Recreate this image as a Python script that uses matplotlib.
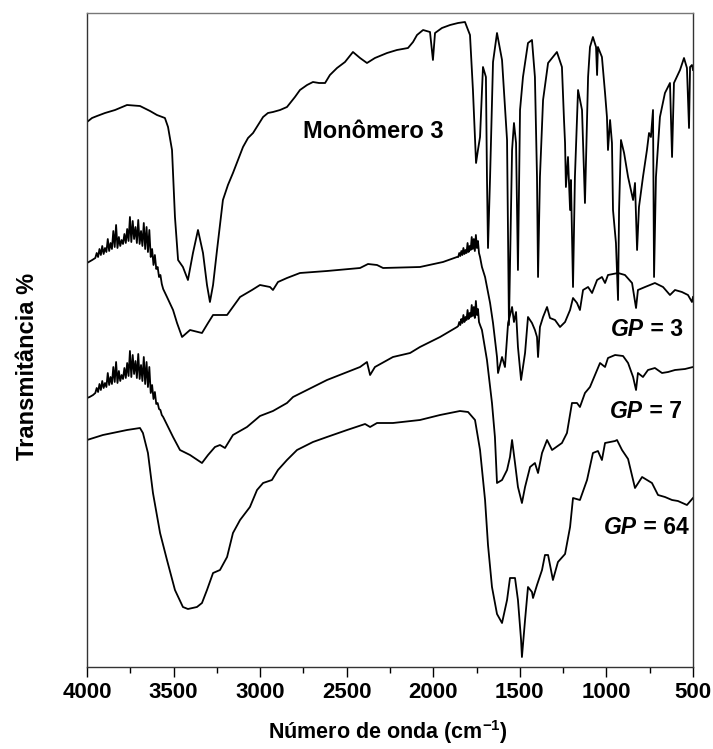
import matplotlib
matplotlib.use("Agg")
import matplotlib.pyplot as plt
from matplotlib.ticker import MultipleLocator

plt.rcParams['font.family'] = ['Liberation Sans', 'DejaVu Sans']
plt.rcParams['mathtext.fontset'] = 'custom'
plt.rcParams['mathtext.rm'] = 'Liberation Sans:bold'
plt.rcParams['mathtext.bf'] = 'Liberation Sans:bold'
plt.rcParams['mathtext.it'] = 'Liberation Sans:bold:italic'
plt.rcParams['mathtext.default'] = 'bf'

# ---------------- data (wavenumber cm-1, transmittance in arbitrary offset units) ----
mono_wn = [4000, 3971, 3942, 3896, 3838, 3769, 3694, 3636, 3596, 3550, 3532, 3509, 3492, 3474,
           3446, 3417, 3388, 3359, 3330, 3307, 3290, 3272, 3249, 3215, 3186, 3157, 3128, 3099,
           3070, 3041, 3012, 2983, 2955, 2926, 2885, 2845, 2799, 2770, 2729, 2695, 2660, 2625,
           2597, 2556, 2510, 2464, 2423, 2383, 2337, 2267, 2210, 2146, 2117, 2094, 2059, 2019,
           2002, 1990, 1950, 1903, 1857, 1817, 1788, 1771, 1753, 1742, 1730, 1713, 1696, 1690,
           1684, 1672, 1655, 1632, 1603, 1574, 1563, 1545, 1534, 1522, 1511, 1499, 1482, 1453,
           1430, 1413, 1401, 1395, 1384, 1366, 1337, 1286, 1257, 1245, 1239, 1234, 1222, 1210,
           1205, 1193, 1182, 1164, 1141, 1124, 1106, 1095, 1078, 1060, 1054, 1049, 1026, 1008,
           997, 991, 979, 968, 962, 945, 933, 927, 916, 898, 875, 846, 835, 823, 812, 789, 766,
           754, 743, 731, 725, 714, 691, 662, 633, 621, 610, 575, 552, 535, 523, 517, 506, 500]
mono_t = [545, 549, 551, 554, 557, 562, 561, 556, 552, 549, 540, 517, 450, 407,
          400, 387, 414, 437, 414, 382, 365, 382, 417, 467, 482, 494, 507, 520,
          529, 534, 542, 550, 554, 555, 557, 560, 570, 577, 582, 585, 584, 584,
          592, 599, 605, 615, 609, 604, 609, 614, 617, 619, 625, 632, 637, 635,
          607, 634, 639, 642, 644, 645, 632, 577, 504, 517, 530, 600, 590, 490,
          419, 490, 605, 634, 607, 527, 342, 517, 544, 524, 397, 557, 590, 624,
          627, 590, 490, 390, 490, 567, 604, 615, 600, 547, 524, 480, 510, 457,
          487, 380, 490, 577, 557, 464, 590, 620, 630, 620, 592, 620, 610, 574,
          550, 517, 547, 524, 457, 424, 367, 457, 527, 514, 490, 467, 484, 417, 460, 490, 517,
          534, 530, 557, 390, 490, 550, 574, 584, 510, 584, 597, 609, 599, 539, 600, 602, 597]

gp3_wn = [4000, 3970,
          3952, 3944, 3936, 3928, 3920, 3912, 3904, 3896, 3888, 3880, 3872, 3864, 3856, 3848,
          3840, 3832, 3824, 3816, 3808, 3800, 3792, 3784, 3776, 3768, 3760, 3752, 3744, 3736,
          3728, 3720, 3712, 3704, 3696, 3688, 3680, 3672, 3664, 3656, 3648, 3640, 3632, 3624,
          3616, 3608, 3600, 3592, 3584, 3576, 3568, 3560,
          3538, 3503, 3480, 3451, 3405, 3336, 3301, 3272, 3232, 3191, 3116, 3047,
          3001, 2943, 2926, 2897, 2845, 2770, 2614, 2423, 2377, 2325, 2290, 2077, 1944, 1863,
          1856, 1850, 1844, 1838, 1832, 1826, 1820, 1814, 1808, 1802, 1796, 1790, 1784, 1778,
          1772, 1766, 1760, 1754, 1748, 1742, 1736, 1730,
          1719, 1701, 1672, 1655, 1632,
          1626, 1603, 1586, 1568, 1545, 1534, 1522, 1511, 1493, 1470, 1453, 1430, 1413, 1401,
          1395, 1384, 1366, 1343, 1326, 1297, 1268, 1239, 1210, 1193, 1170, 1153, 1135, 1106,
          1083, 1054, 1026, 1008, 991, 933, 893, 852, 829, 818, 777, 720, 673, 633, 604, 564,
          529, 506, 500]
gp3_t = [404, 407,
         409, 414, 410, 418, 412, 421, 413, 419, 415, 428, 416, 424, 418, 436,
         420, 442, 419, 430, 421, 427, 423, 433, 424, 438, 426, 450, 425, 446,
         428, 440, 424, 447, 423, 436, 421, 444, 418, 440, 415, 437, 410, 418,
         402, 412, 398, 400, 390, 392, 383, 378,
         370, 357, 344, 330, 337, 334, 344, 352, 352, 352, 370, 377,
         382, 380, 377, 385, 389, 394, 396, 399, 403, 402, 399, 400, 405, 410,
         410, 414, 411, 416, 412, 419, 413, 417, 414, 424, 415, 421, 417, 430,
         418, 428, 416, 432, 419, 426, 414, 410,
         400, 390, 364, 344, 310,
         294, 310, 300, 344, 360, 345, 355, 320, 287, 314, 350, 344, 337, 330,
         310, 340, 350, 360, 349, 347, 340, 345, 357, 369, 364, 357, 377, 380,
         374, 387, 390, 384, 392, 394, 392, 384, 359, 377, 380, 384, 380, 372, 377, 375,
         372, 365, 370]

gp7_wn = [4000, 3985, 3965,
          3952, 3944, 3936, 3928, 3920, 3912, 3904, 3896, 3888, 3880, 3872, 3864, 3856, 3848,
          3840, 3832, 3824, 3816, 3808, 3800, 3792, 3784, 3776, 3768, 3760, 3752, 3744, 3736,
          3728, 3720, 3712, 3704, 3696, 3688, 3680, 3672, 3664, 3656, 3648, 3640, 3632, 3624,
          3616, 3608, 3600, 3592, 3584, 3576, 3568, 3560,
          3503, 3463, 3405, 3336, 3301, 3261, 3232, 3203, 3157, 3076, 3001, 2926, 2845,
          2810, 2614, 2423, 2383, 2365, 2337, 2233, 2134, 2077, 1961, 1863,
          1856, 1850, 1844, 1838, 1832, 1826, 1820, 1814, 1808, 1802, 1796, 1790, 1784, 1778,
          1772, 1766, 1760, 1754, 1748, 1742, 1736, 1730,
          1719, 1690, 1661, 1644, 1632, 1603, 1574, 1557,
          1545, 1528, 1511, 1488, 1470, 1441, 1413, 1395, 1372, 1343, 1314, 1257, 1228, 1199,
          1170, 1153, 1124, 1095, 1078, 1037, 1008, 991, 950, 904, 875, 846, 829, 818, 789,
          760, 720, 679, 644, 604, 546, 500]
gp7_t = [269, 270, 272,
         274, 279, 275, 283, 277, 286, 279, 284, 280, 294, 282, 290, 283, 300,
         285, 305, 284, 296, 286, 292, 288, 299, 289, 304, 291, 316, 290, 312,
         293, 306, 289, 313, 288, 302, 286, 310, 283, 305, 280, 300, 274, 282,
         268, 275, 263, 264, 258, 257, 252, 250,
         230, 217, 212, 204, 212, 220, 222, 219, 232, 240, 251, 256, 264,
         270, 287, 300, 305, 292, 300, 310, 314, 320, 330, 340,
         341, 345, 342, 348, 344, 352, 345, 350, 347, 357, 348, 354, 350, 362,
         351, 360, 349, 366, 352, 358, 345, 342,
         337, 307, 264, 230, 184, 187, 197, 210,
         227, 204, 180, 164, 180, 200, 204, 194, 214, 227, 217, 224, 234, 264,
         264, 260, 274, 280, 287, 304, 300, 309, 312, 311, 304, 290, 277, 294, 290,
         297, 299, 294, 295, 297, 298, 300]

gp64_wn = [4000, 3908, 3769, 3694, 3677, 3648, 3619, 3578, 3538, 3492, 3446, 3417, 3365, 3336,
           3307, 3272, 3232, 3191, 3157, 3116, 3059, 3018, 2983, 2932, 2897, 2845, 2787, 2695,
           2614, 2498, 2394, 2365, 2325, 2233, 2077, 1961, 1846, 1799, 1759, 1730, 1701, 1684,
           1661, 1632, 1603, 1574, 1557, 1528, 1511, 1493, 1488, 1470, 1453, 1430, 1424, 1401,
           1372, 1355, 1337, 1309, 1280, 1239, 1210, 1193, 1153, 1112, 1078, 1049, 1026, 1008,
           950, 939, 910, 875, 835, 794, 737, 702, 662, 621, 587, 535, 500]
gp64_t = [227, 232, 237, 239, 234, 214, 174, 134, 107, 77, 60, 58, 60, 64,
          77, 94, 97, 110, 134, 147, 160, 177, 184, 187, 197, 207, 217, 225,
          230, 237, 243, 240, 244, 244, 247, 252, 256, 255, 247, 217, 167, 122,
          80, 53, 44, 67, 89, 89, 67, 27, 10, 47, 80, 75, 69, 82,
          97, 112, 112, 87, 105, 113, 140, 169, 167, 187, 214, 216, 207, 224,
          226, 227, 217, 208, 179, 190, 184, 172, 170, 167, 166, 162, 169]

xticks = [4000, 3500, 3000, 2500, 2000, 1500, 1000, 500]
xlabel = 'Número de onda (cm$^{-1}$)'
ylabel = 'Transmitância %'

# ---------------- figure ----------------
fig = plt.figure(figsize=(7.13, 7.49), dpi=100)
ax = fig.add_axes([87 / 713, 82 / 749, 606 / 713, 654 / 749])

for wn, t in [(mono_wn, mono_t), (gp3_wn, gp3_t), (gp7_wn, gp7_t), (gp64_wn, gp64_t)]:
    ax.plot(wn, t, color='black', lw=1.3, solid_joinstyle='round')

ax.set_xlim(4000, 500)
ax.set_ylim(0, 654)
ax.set_xticks(xticks)
ax.xaxis.set_minor_locator(MultipleLocator(250))
ax.set_yticks([])
ax.tick_params(axis='x', which='major', direction='out', length=7, width=1,
               labelsize=16, pad=4)
ax.tick_params(axis='x', which='minor', direction='out', length=4, width=1)
for lab in ax.get_xticklabels():
    lab.set_fontweight('bold')

for side in ['left', 'bottom', 'right']:
    ax.spines[side].set_color('#333333')
    ax.spines[side].set_linewidth(1.0)
ax.spines['top'].set_color('#777777')
ax.spines['top'].set_linewidth(1.0)

ax.set_xlabel(xlabel, fontsize=15.5, fontweight='bold')
ax.xaxis.set_label_coords(0.497, -0.078)
ax.xaxis.label.set_va('top')
ax.set_ylabel(ylabel, fontsize=17, fontweight='bold')
ax.yaxis.set_label_coords(-0.08, 0.46)

ax.text(2752, 535, 'Monômero 3', fontsize=17, fontweight='bold', ha='left', va='center')

fig.canvas.draw()
renderer = fig.canvas.get_renderer()
for (xr, yc, num) in [(558, 338, '3'), (564, 255, '7'), (523, 139, '64')]:
    t1 = ax.text(xr, yc, ' = ' + num, fontsize=16.5, fontweight='bold', ha='right', va='center')
    bb = t1.get_window_extent(renderer)
    xd, yd = ax.transData.transform((xr, yc))
    ax.annotate('GP', xy=(bb.x0, yd), xycoords='figure pixels', fontsize=16.5,
                fontweight='bold', style='italic', ha='right', va='center')

fig.savefig('out.png', dpi=100)
